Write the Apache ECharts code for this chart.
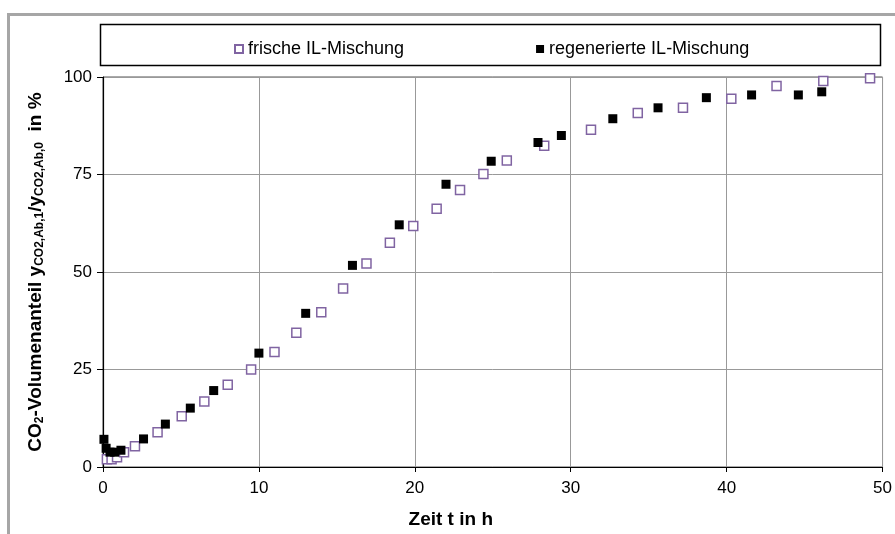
<!DOCTYPE html>
<html><head><meta charset="utf-8">
<script src="https://cdn.jsdelivr.net/npm/echarts@6/dist/echarts.min.js"></script>
<style>html,body{margin:0;padding:0;background:#fff}#c{width:895px;height:534px}</style>
</head><body><div id="c"></div>
<script>
var frischeX = [0.25,0.55,0.9,1.35,2.05,3.5,5.05,6.5,8.0,9.5,11.0,12.4,14.0,15.4,16.9,18.4,19.9,21.4,22.9,24.4,25.9,28.3,31.3,34.3,37.2,40.3,43.2,46.2,49.2];
var frischeY = [2.0,2.0,2.5,3.8,5.3,8.9,13.0,16.8,21.1,25.0,29.5,34.4,39.7,45.8,52.2,57.5,61.8,66.2,71.0,75.1,78.6,82.4,86.5,90.8,92.1,94.4,97.7,99.0,99.7];
var regenX = [0.06,0.2,0.45,0.75,1.15,2.6,4.0,5.6,7.1,10.0,13.0,16.0,19.0,22.0,24.9,27.9,29.4,32.7,35.6,38.7,41.6,44.6,46.1];
var regenY = [7.1,4.8,3.8,3.8,4.3,7.2,11.0,15.1,19.6,29.2,39.4,51.7,62.1,72.5,78.4,83.2,85.0,89.3,92.1,94.7,95.4,95.4,96.2];
var seriesNames = ['frische IL-Mischung','regenerierte IL-Mischung'];
var xTicks = {min:0,max:50,interval:10};
var yTicks = {min:0,max:100,interval:25};

function pairs(xs, ys){ return xs.map(function(x,i){return [x, ys[i]];}); }
var FONT = 'Liberation Sans, Arial, sans-serif';
var chart = echarts.init(document.getElementById('c'));
chart.setOption({
  animation:false,
  backgroundColor:'#fff',
  graphic:[
    {type:'rect', z:0, shape:{x:8.5,y:14.5,width:900,height:600}, style:{fill:'none',stroke:'#a6a6a6',lineWidth:3}},
    {type:'rect', z:0, shape:{x:100.5,y:24.5,width:780,height:41}, style:{fill:'#fff',stroke:'#000',lineWidth:1.5}}
  ],
  legend:{
    left:229, top:35, itemWidth:8, itemHeight:8, itemGap:132,
    textStyle:{fontFamily:FONT,fontSize:18,color:'#000'},
    data:seriesNames
  },
  grid:{left:103,right:12,top:77,bottom:64,show:true,borderColor:'#555',borderWidth:1,backgroundColor:'transparent'},
  xAxis:{
    type:'value', min:xTicks.min, max:xTicks.max, interval:xTicks.interval,
    name:'Zeit t in h', nameLocation:'middle', nameGap:43,
    nameTextStyle:{fontFamily:FONT,fontSize:19,fontWeight:'bold',color:'#000',padding:[0,84,0,0]},
    axisLine:{show:true,onZero:false,lineStyle:{color:'#000',width:1.2}},
    axisTick:{show:true,inside:false,length:5,lineStyle:{color:'#000'}},
    axisLabel:{fontFamily:FONT,fontSize:17,color:'#000',margin:13},
    splitLine:{show:true,lineStyle:{color:'#999',width:1}}
  },
  yAxis:{
    type:'value', min:yTicks.min, max:yTicks.max, interval:yTicks.interval,
    name:'CO{s|2}-Volumenanteil y{s|CO2,Ab,1}/y{s|CO2,Ab,0}  in %', nameLocation:'middle', nameGap:57, nameRotate:90,
    nameTextStyle:{fontFamily:FONT,fontSize:19,fontWeight:'bold',color:'#000',
      rich:{s:{fontFamily:FONT,fontSize:12,fontWeight:'bold',color:'#000',verticalAlign:'bottom',padding:[9,0,0,0]}}},
    axisLine:{show:true,onZero:false,lineStyle:{color:'#000',width:1.2}},
    axisTick:{show:true,inside:false,length:6,lineStyle:{color:'#000'}},
    axisLabel:{fontFamily:FONT,fontSize:17,color:'#000',margin:11},
    splitLine:{show:true,lineStyle:{color:'#999',width:1}}
  },
  series:[
    {name:seriesNames[0], type:'scatter', symbol:'rect', symbolSize:9,
     itemStyle:{color:'#fff',borderColor:'#8064a2',borderWidth:1.5,opacity:1},
     data:pairs(frischeX,frischeY)},
    {name:seriesNames[1], type:'scatter', symbol:'rect', symbolSize:9,
     itemStyle:{color:'#000',opacity:1},
     data:pairs(regenX,regenY)}
  ]
});
</script></body></html>
